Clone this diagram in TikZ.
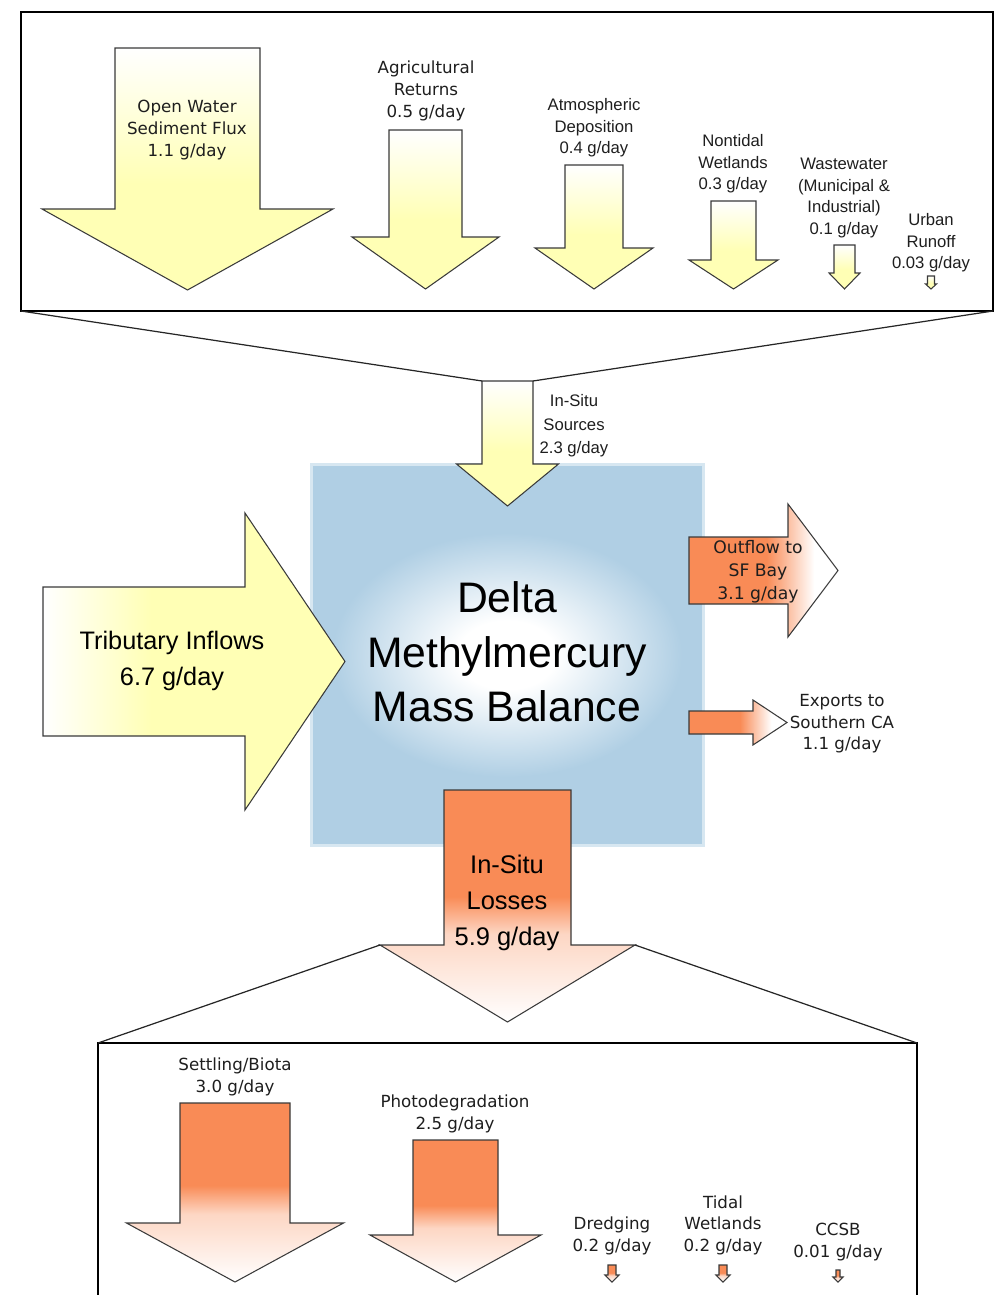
\documentclass[tikz,border=0pt]{standalone}
\usepackage{fontspec}
\usepackage{xcolor}
\newfontfamily\vfont{DejaVu Sans}
\newfontfamily\afont{Liberation Sans}
\definecolor{srcyellow}{HTML}{FFFFB5}
\definecolor{lossorange}{HTML}{F98B56}
\definecolor{poolblue}{HTML}{B0CFE4}
\definecolor{edgegray}{HTML}{3A3A3A}
\definecolor{textgray}{HTML}{1E1E1E}
\colorlet{losslight}{lossorange!35!white}

% colour ramps (the path box maps onto 25bp--75bp)
\pgfdeclareverticalshading{srcfade}{100bp}{color(0bp)=(srcyellow); color(47bp)=(srcyellow); color(75bp)=(white); color(100bp)=(white)}
\pgfdeclareverticalshading{lossfade}{100bp}{color(0bp)=(white); color(25bp)=(white); color(44bp)=(losslight); color(52bp)=(lossorange); color(100bp)=(lossorange)}
\pgfdeclarehorizontalshading{inflowfade}{100bp}{color(0bp)=(white); color(25bp)=(white); color(43bp)=(srcyellow); color(100bp)=(srcyellow)}
\pgfdeclarehorizontalshading{outfade}{100bp}{color(0bp)=(lossorange); color(51bp)=(lossorange); color(67bp)=(white); color(100bp)=(white)}
\pgfdeclareradialshading{glow}{\pgfpoint{0bp}{0bp}}{color(0bp)=(white); color(7bp)=(white); color(25bp)=(poolblue); color(50bp)=(poolblue)}

% block arrow pointing down: name, style, x, top, half shaft, head y, half head, tip y
\newcommand{\flowdown}[8]{%
  \shadedraw[#2] ({#3-#5},#4) coordinate (#1-nw) -- ({#3+#5},#4) coordinate (#1-ne)
    -- ({#3+#5},#6) -- ({#3+#7},#6) coordinate (#1-er) -- (#3,#8) coordinate (#1-tip)
    -- ({#3-#7},#6) coordinate (#1-el) -- ({#3-#5},#6) -- cycle;}
% block arrow pointing right: name, style, left x, y, half shaft, head x, half head, tip x
\newcommand{\flowright}[8]{%
  \shadedraw[#2] (#3,{#4-#5}) coordinate (#1-w) -- (#6,{#4-#5}) -- (#6,{#4-#7})
    -- (#8,#4) coordinate (#1-tip) -- (#6,{#4+#7}) -- (#6,{#4+#5}) -- (#3,{#4+#5}) -- cycle;}

\begin{document}
\begin{tikzpicture}[
  x=0.02cm, y=-0.02cm,
  source/.style={draw=edgegray, line width=0.6pt, shading=srcfade},
  inflow/.style={draw=edgegray, line width=0.6pt, shading=inflowfade},
  loss/.style={draw=edgegray, line width=0.6pt, shading=lossfade},
  outflow/.style={draw=edgegray, line width=0.6pt, shading=outfade},
  box/.style={draw=black, line width=1.3pt},
  funnel/.style={draw=black!85, line width=0.7pt},
  lbl/.style={align=center, inner sep=0pt, text=textgray},
  vlabel/.style={lbl, font=\vfont\fontsize{9.5}{12.3}\selectfont},
  alabel/.style={lbl, font=\afont\fontsize{9.5}{12.2}\selectfont}
]
  \useasboundingbox (0,0) rectangle (1004,1295);

  % the Delta
  \fill[poolblue!50] (310,463) rectangle (705,847);
  \fill[poolblue] (313,466) rectangle (702,844);
  \shade[shading=glow] (507,655) ellipse (175 and 122);
  \node[lbl, font=\afont\fontsize{24.3}{31}\selectfont, text=black] (title) at (507,652)
    {Delta\\Methylmercury\\Mass Balance};

  % sources
  \flowdown{open}{source}{187.5}{48}{72.5}{209}{145.5}{290}
  \flowdown{agr}{source}{425.5}{130}{36.5}{237}{73.5}{289}
  \flowdown{atm}{source}{594}{165}{29}{248}{59}{289}
  \flowdown{ntw}{source}{733.5}{201}{22.5}{260}{44.5}{289}
  \flowdown{wwt}{source}{844.5}{245}{10.5}{273}{15.5}{289}
  \flowdown{urb}{source}{931}{276}{3.5}{284}{5.5}{289}
  \node[vlabel] (openlbl) at (187,130) {Open Water\\Sediment Flux\\1.1 g/day};
  \node[vlabel] (agrlbl) at (426,91) {Agricultural\\Returns\\0.5 g/day};
  \node[alabel] (atmlbl) at (594,128) {Atmospheric\\Deposition\\0.4 g/day};
  \node[alabel] (ntwlbl) at (733,164) {Nontidal\\Wetlands\\0.3 g/day};
  \node[alabel] (wwtlbl) at (844,198) {Wastewater\\(Municipal \&\\Industrial)\\0.1 g/day};
  \node[alabel] (urblbl) at (931,243) {Urban\\Runoff\\0.03 g/day};

  \flowdown{insrc}{source}{507.5}{381}{25.5}{464}{51}{506}
  \node[alabel, font=\afont\fontsize{9.5}{13.3}\selectfont] (insrclbl) at (574,426) {In-Situ\\Sources\\2.3 g/day};

  \flowright{trib}{inflow}{43}{661.5}{74.5}{245}{148.5}{345}
  \node[lbl, font=\afont\fontsize{14.4}{20}\selectfont, text=black] (triblbl) at (172,661) {Tributary Inflows\\6.7 g/day};

  % exports
  \flowright{out}{outflow}{689}{570.5}{33.5}{788}{66.5}{838}
  \node[vlabel, font=\vfont\fontsize{9.8}{13}\selectfont] (outlbl) at (758,572) {Outflow to\\SF Bay\\3.1 g/day};
  \flowright{exp}{outflow}{689}{722.5}{11.5}{753}{22.5}{787}
  \node[vlabel] (explbl) at (842,724) {Exports to\\Southern CA\\1.1 g/day};

  % losses
  \flowdown{loss}{loss}{507.5}{790}{63.5}{945}{127.5}{1022}
  \node[lbl, font=\afont\fontsize{14.5}{20.4}\selectfont, text=black] (losslbl) at (507,903) {In-Situ\\Losses\\5.9 g/day};

  \flowdown{set}{loss}{235}{1103}{55}{1223}{108.5}{1282}
  \flowdown{pho}{loss}{455.5}{1140}{42.5}{1235}{85.5}{1282}
  \flowdown{dre}{loss}{612}{1265}{4}{1275}{7}{1282}
  \flowdown{tid}{loss}{723}{1265}{4}{1275}{7}{1282}
  \flowdown{ccs}{loss}{838}{1270}{2}{1277}{5}{1282}
  \node[vlabel] (setlbl) at (235,1077) {Settling/Biota\\3.0 g/day};
  \node[vlabel] (pholbl) at (455,1114) {Photodegradation\\2.5 g/day};
  \node[vlabel] (drelbl) at (612,1236) {Dredging\\0.2 g/day};
  \node[vlabel] (tidlbl) at (723,1225) {Tidal\\Wetlands\\0.2 g/day};
  \node[vlabel] (ccslbl) at (838,1242) {CCSB\\0.01 g/day};

  % boxes and funnels
  \coordinate (srcbox-nw) at (21,12);
  \coordinate (srcbox-sw) at (21,311);
  \coordinate (srcbox-se) at (993,311);
  \coordinate (sinkbox-nw) at (98,1043);
  \coordinate (sinkbox-ne) at (917,1043);
  \draw[box] (srcbox-nw) rectangle (srcbox-se);
  \draw[funnel] (srcbox-sw) -- (insrc-nw);
  \draw[funnel] (srcbox-se) -- (insrc-ne);
  \draw[box] (98,1295) -- (sinkbox-nw) -- (sinkbox-ne) -- (917,1295);
  \draw[funnel] (loss-el) -- (sinkbox-nw);
  \draw[funnel] (loss-er) -- (sinkbox-ne);
\end{tikzpicture}
\end{document}
